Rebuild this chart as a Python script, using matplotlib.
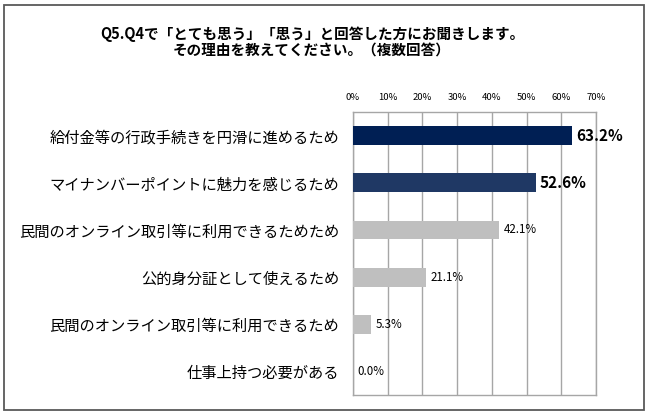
import matplotlib.pyplot as plt
from matplotlib.patches import Rectangle

plt.rcParams['font.family'] = ['Noto Sans CJK JP', 'DejaVu Sans']

categories = [
    "給付金等の行政手続きを円滑に進めるため",
    "マイナンバーポイントに魅力を感じるため",
    "民間のオンライン取引等に利用できるためため",
    "公的身分証として使えるため",
    "民間のオンライン取引等に利用できるため",
    "仕事上持つ必要がある",
]
values = [63.2, 52.6, 42.1, 21.1, 5.3, 0.0]
colors = ["#001f54", "#1f3864", "#bfbfbf", "#bfbfbf", "#bfbfbf", "#bfbfbf"]
ticks = [0, 10, 20, 30, 40, 50, 60, 70]

fig = plt.figure(figsize=(6.5, 4.17), dpi=100)
fig.patches.append(Rectangle((0.006, 0.017), 0.984, 0.972, transform=fig.transFigure,
                             fill=False, edgecolor="#595959", linewidth=1.3))

fig.text(0.48, 0.898, "Q5.Q4で「とても思う」「思う」と回答した方にお聞きします。\nその理由を教えてください。（複数回答）",
         ha="center", va="center", fontsize=10.5, fontweight="bold", linespacing=1.05)

ax = fig.add_axes([0.543, 0.053, 0.374, 0.678])
y = list(range(len(categories)))
ax.barh(y, values, height=0.4, color=colors, zorder=3)
ax.set_xlim(0, 70)
ax.set_ylim(len(categories) - 0.5, -0.5)
ax.set_xticks(ticks)
ax.set_xticklabels([f"{t}%" for t in ticks], fontsize=6.8)
ax.xaxis.tick_top()
ax.tick_params(axis="x", length=0, pad=7)
ax.set_yticks(y)
ax.set_yticklabels(categories, fontsize=11)
ax.tick_params(axis="y", length=0, pad=10)
ax.grid(axis="x", color="#a6a6a6", linewidth=1, zorder=0)
for s in ax.spines.values():
    s.set_color("#a6a6a6")
    s.set_linewidth(1)

for i, v in enumerate(values):
    if i < 2:
        ax.text(v + 1, i, f"{v:.1f}%", va="center", ha="left", fontsize=11, fontweight="bold", zorder=4)
    else:
        ax.text(v + 1.2, i, f"{v:.1f}%", va="center", ha="left", fontsize=8.3, zorder=4)

fig.savefig("out.png", dpi=100)
